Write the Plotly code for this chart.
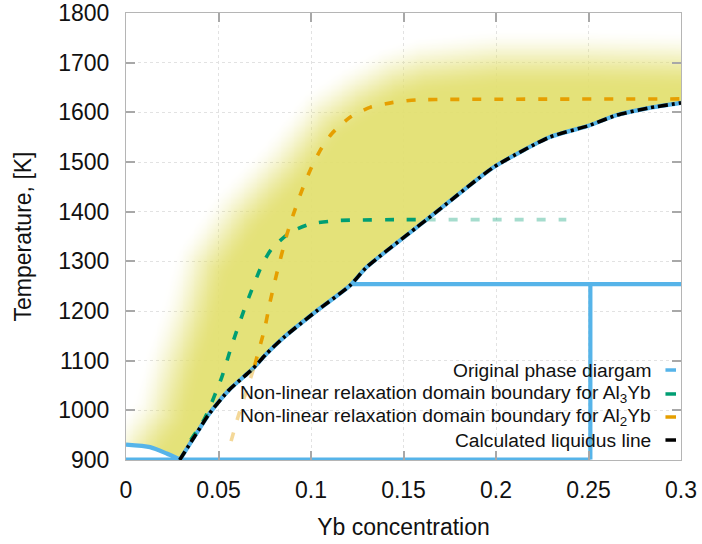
import numpy as np
import plotly.graph_objects as go

# ---------------- data ----------------
# calculated liquidus line (also part of the original diagram)
liq_x = [0.0290, 0.0370, 0.0450, 0.0557, 0.0686, 0.0757, 0.0850, 0.1030, 0.1210, 0.1300,
         0.1570, 0.1625, 0.1700, 0.1985, 0.2290, 0.2500, 0.2650, 0.2830, 0.3000]
liq_T = [900, 947, 993, 1041, 1084, 1113, 1146, 1200, 1251, 1288,
         1368, 1384, 1406, 1489, 1550, 1573, 1594, 1609, 1619]

# Al-rich liquidus of the original diagram
al_x = [0.0, 0.013, 0.022, 0.029]
al_T = [931, 926, 913, 901]

# invariant lines of the original diagram
eut_x = [0.122, 0.300]
eut_T = [1254, 1254]
comp_x = [0.251, 0.251]
comp_T = [901, 1254]
base_x = [0.0, 0.251]
base_T = [901, 901]

# Al3Yb relaxation domain boundary
green_x = [0.0350, 0.0427, 0.0517, 0.0571, 0.0643, 0.0733, 0.0787, 0.0886,
           0.0995, 0.1140, 0.1229, 0.1480, 0.1625]
green_T = [940, 985, 1066, 1130, 1207, 1291, 1325, 1358, 1375, 1382, 1383, 1384, 1384]
green_ext_x = [0.1625, 0.238]
green_ext_T = [1384, 1384]

# Al2Yb relaxation domain boundary
orange_faint_x = [0.0568, 0.0604, 0.0695]
orange_faint_T = [938, 985, 1090]
orange_x = [0.0695, 0.0751, 0.0778, 0.0814, 0.0868, 0.0905, 0.0950, 0.0995, 0.1049,
            0.1112, 0.1211, 0.1319, 0.1445, 0.1570, 0.1750, 0.3000]
orange_T = [1090, 1167, 1217, 1274, 1352, 1395, 1442, 1483, 1523,
            1557, 1590, 1610, 1620, 1625, 1626, 1627]

# mid-line of the soft upper edge of the shaded (yellow) domain
fade_x = [-0.003, 0.007, 0.018, 0.025, 0.034, 0.041, 0.060, 0.085, 0.106, 0.124,
          0.143, 0.160, 0.200, 0.250, 0.300, 0.31]
fade_T = [880, 940, 995, 1096, 1197, 1298, 1400, 1497, 1595, 1640,
          1677, 1695, 1710, 1710, 1706, 1705]

legend_labels = ["Original phase diargam",
                 "Non-linear relaxation domain boundary for Al<sub>3</sub>Yb",
                 "Non-linear relaxation domain boundary for Al<sub>2</sub>Yb",
                 "Calculated liquidus line"]

# ---------------- style / layout ----------------
W, H = 702, 544
ML, MR, MT, MB = 126, 21, 13, 84
PW, PH = W - ML - MR, H - MT - MB
XR = [0, 0.3]
YR = [900, 1800]

BLUE = "#56B4E9"
GREEN = "#009E73"
ORANGE = "#E69F00"
FONT = "Liberation Sans, Arial, sans-serif"
BLUR = 60.0              # width of the soft edge, px

# ---------------- shaded domain (heatmap) ----------------
gx = np.linspace(XR[0], XR[1], 301)
gT = np.linspace(YR[0], YR[1], 361)
X, Y = np.meshgrid(gx, gT)
sx = PW / (XR[1] - XR[0])
sy = PH / (YR[1] - YR[0])
PX, PY = X * sx, Y * sy
bx = np.array(fade_x) * sx
by = np.array(fade_T) * sy
d = np.full(X.shape, np.inf)
for i in range(len(bx) - 1):
    vx, vy = bx[i + 1] - bx[i], by[i + 1] - by[i]
    t = np.clip(((PX - bx[i]) * vx + (PY - by[i]) * vy) / (vx * vx + vy * vy), 0, 1)
    d = np.minimum(d, np.hypot(PX - bx[i] - t * vx, PY - by[i] - t * vy))
inside = Y < np.interp(X, fade_x, fade_T)
sd = np.where(inside, d, -d)
s = np.clip(0.5 + sd / BLUR, 0, 1)
z = s * s * (3 - 2 * s)
low_x = al_x[:-1] + liq_x
low_T = al_T[:-1] + liq_T
z = np.where(Y >= np.interp(X, low_x, low_T), z, 0.0)
z = np.round(z, 3)

fig = go.Figure()
fig.add_trace(go.Heatmap(
    x=gx, y=gT, z=z, zmin=0, zmax=1, zsmooth="best", showscale=False, hoverinfo="skip",
    colorscale=[[0, "rgba(226,223,110,0)"], [1, "rgba(226,223,110,0.92)"]]))

LW = 3.6
SPL = dict(shape="spline", smoothing=0.6)
# original phase diagram (blue)
for xs, ys, shp in [(al_x, al_T, SPL), (liq_x, liq_T, SPL), (eut_x, eut_T, {}),
                    (comp_x, comp_T, {}), (base_x, base_T, {})]:
    fig.add_trace(go.Scatter(x=xs, y=ys, mode="lines",
                             line=dict(color=BLUE, width=4.2, **shp),
                             showlegend=False, hoverinfo="skip"))
DASH = "9px,13px"
fig.add_trace(go.Scatter(x=green_ext_x, y=green_ext_T, mode="lines", opacity=0.35,
                         line=dict(color=GREEN, width=LW, dash=DASH), showlegend=False))
fig.add_trace(go.Scatter(x=green_x, y=green_T, mode="lines",
                         line=dict(color=GREEN, width=LW, dash=DASH, **SPL), showlegend=False))
fig.add_trace(go.Scatter(x=orange_faint_x, y=orange_faint_T, mode="lines", opacity=0.4,
                         line=dict(color=ORANGE, width=LW, dash=DASH), showlegend=False))
fig.add_trace(go.Scatter(x=orange_x, y=orange_T, mode="lines",
                         line=dict(color=ORANGE, width=LW, dash=DASH, **SPL), showlegend=False))
fig.add_trace(go.Scatter(x=liq_x, y=liq_T, mode="lines",
                         line=dict(color="black", width=LW, dash="10px,4px,3px,4px", **SPL),
                         showlegend=False))

# legend drawn as right-aligned text with the sample line on the right
row_y = [0.2013, 0.1477, 0.0962, 0.0447]
row_c = [BLUE, GREEN, ORANGE, "black"]
for lab, yy, cc in zip(legend_labels, row_y, row_c):
    fig.add_annotation(x=0.9495, y=yy, xref="paper", yref="paper", text=lab,
                       showarrow=False, xanchor="right", yanchor="middle",
                       font=dict(family=FONT, size=19.2, color="#111"))
    fig.add_shape(type="line", xref="paper", yref="paper", x0=0.972, x1=0.991,
                  y0=yy, y1=yy, line=dict(color=cc, width=3.5))

axis_common = dict(showline=True, linecolor="#b5b5b5", linewidth=1, mirror="ticks",
                   ticks="inside", ticklen=9, tickwidth=1.5, tickcolor="#a8a8a8",
                   showgrid=True, gridcolor="#e2e2e2", griddash="dot", gridwidth=1,
                   zeroline=False, ticklabeloverflow="allow",
                   tickfont=dict(family=FONT, size=23, color="#111"))
fig.update_xaxes(range=XR, dtick=0.05, tick0=0, ticklabelstandoff=9,
                 title=dict(text="Yb concentration", standoff=17,
                            font=dict(family=FONT, size=23, color="#111")),
                 **axis_common)
fig.update_yaxes(range=YR, dtick=100, tick0=900, ticklabelstandoff=11,
                 title=dict(text="Temperature, [K]", standoff=20,
                            font=dict(family=FONT, size=23, color="#111")),
                 **axis_common)
fig.update_layout(width=W, height=H, margin=dict(l=ML, r=MR, t=MT, b=MB, autoexpand=False),
                  plot_bgcolor="white", paper_bgcolor="white", showlegend=False)
fig.write_html("out.html", config={"displayModeBar": False},
               post_script="document.body.style.margin='0';document.body.style.overflow='hidden';")
